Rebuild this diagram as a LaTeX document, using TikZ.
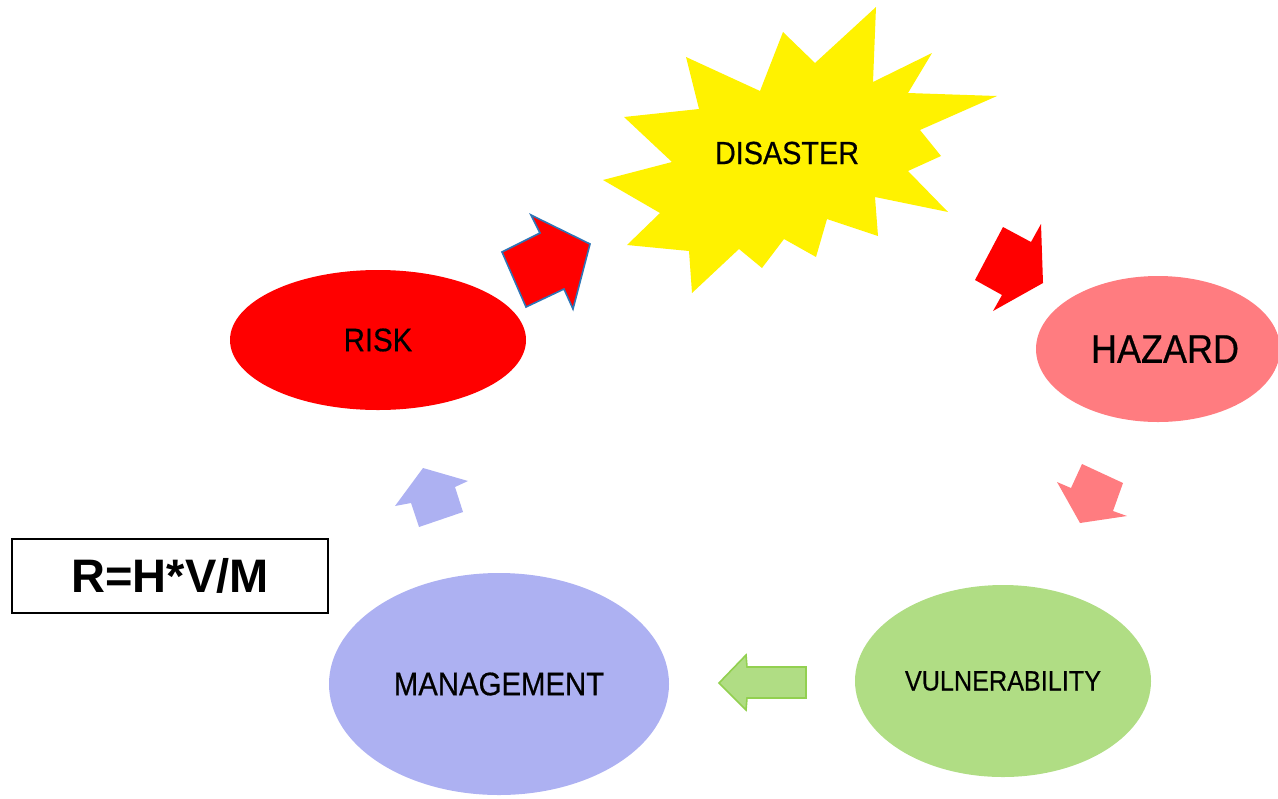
\documentclass[tikz,border=0pt]{standalone}
\usepackage{fontspec}
\setmainfont{Liberation Sans}
\newfontfamily\narrowsans[FakeStretch=0.9,FakeBold=0.5]{Liberation Sans}
\usetikzlibrary{shapes.geometric}
\definecolor{riskred}{HTML}{FF0000}
\definecolor{hazardpink}{HTML}{FF7C80}
\definecolor{vulngreen}{HTML}{B0DD84}
\definecolor{vulnedge}{HTML}{92D050}
\definecolor{mgmtblue}{HTML}{ADB1F2}
\definecolor{arrowedge}{HTML}{2E75B6}

\begin{document}
\begin{tikzpicture}
  [x=0.5pt,y=-0.5pt,
   blob/.style={ellipse,inner sep=0pt},
   label font/.style={font={\narrowsans\fontsize{#1}{#1}\selectfont}}]
  \useasboundingbox (0,0) rectangle (1278,798);

  % the burst
  \fill[yellow] (876,7) -- (873,82) -- (932,53) -- (908,93) -- (997,96)
    -- (920,130) -- (941,156) -- (908,171) -- (948,212) -- (875,197)
    -- (878,236) -- (827,219) -- (816,257) -- (784,239) -- (762,268)
    -- (739,249) -- (692,293) -- (689,251) -- (627,245) -- (660,213)
    -- (603,180) -- (672,162) -- (624,117) -- (699,109) -- (686,57)
    -- (760,91) -- (783,32) -- (815,63) -- cycle;
  \node[label font=16] (disaster) at (787,153) {DISASTER};

  \node[blob,fill=riskred,minimum width=148pt,minimum height=70pt,label font=16.3] (risk) at (378,340) {RISK};
  \node[blob,fill=hazardpink,minimum width=122pt,minimum height=73pt,label font=20] (hazard) at (1158,349) {\hspace{7pt}HAZARD};
  \node[blob,fill=vulngreen,minimum width=148pt,minimum height=96pt,label font=14] (vuln) at (1003,681) {VULNERABILITY};
  \node[blob,fill=mgmtblue,minimum width=170pt,minimum height=111pt,label font=16.3] (mgmt) at (499,684) {MANAGEMENT};

  \node[draw,line width=0.8pt,minimum width=158pt,minimum height=37pt,font={\bfseries\fontsize{23.5}{23.5}\selectfont}] (formula) at (170,576) {R=H*V/M};

  % block arrows
  \filldraw[fill=riskred,draw=arrowedge,line width=0.8pt] (502,252) -- (540,233) -- (531,215) -- (590,244)
    -- (573,309) -- (564,289) -- (526,307) -- cycle;
  \fill[riskred] (975,280) -- (1003,227) -- (1031,242) -- (1041,224)
    -- (1043,283) -- (993,311) -- (1002,295) -- cycle;
  \fill[hazardpink] (1082,464) -- (1123,483) -- (1113,511) -- (1127,516)
    -- (1080,523) -- (1057,482) -- (1071,488) -- cycle;
  \filldraw[fill=vulngreen,draw=vulnedge,line width=0.8pt] (719,683) -- (746,655) -- (747,667) -- (806,667)
    -- (806,698) -- (747,698) -- (746,710) -- cycle;
  \fill[mgmtblue] (423,468) -- (468,481) -- (455,487) -- (463,512)
    -- (419,527) -- (411,503) -- (395,506) -- cycle;
\end{tikzpicture}
\end{document}
